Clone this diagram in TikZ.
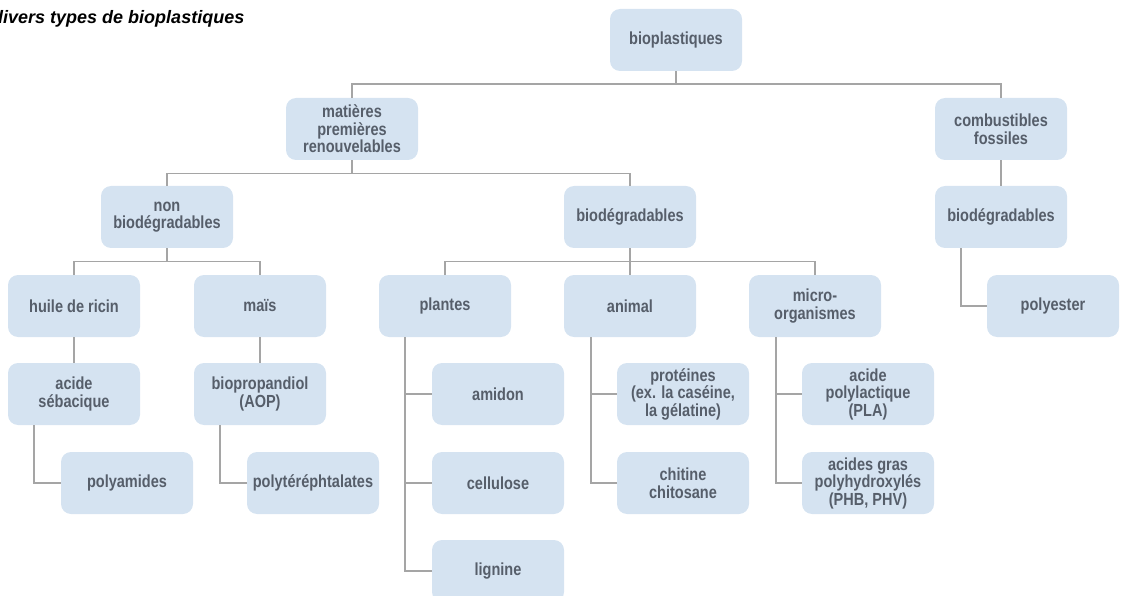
\documentclass[tikz,border=0pt]{standalone}
\usepackage{fontspec}
\setmainfont{Liberation Sans}
\newfontfamily\boxfont[FakeStretch=0.83]{Liberation Sans}
\usetikzlibrary{positioning}
\definecolor{boxblue}{RGB}{213,227,241}
\definecolor{boxtext}{RGB}{86,94,106}
\definecolor{linegray}{RGB}{165,165,165}

\begin{document}
\begin{tikzpicture}[x=1pt,y=-1pt,
  every node/.style={inner sep=0pt},
  box/.style={fill=boxblue, rounded corners=10pt, minimum width=132pt, minimum height=62pt,
    align=center, text=boxtext, font=\boxfont\bfseries\fontsize{17.5}{17.5}\selectfont},
  link/.style={draw=linegray, line width=1.4pt}]
\useasboundingbox (0,0) rectangle (1122,596);
\node [anchor=base west, font=\bfseries\itshape\fontsize{18}{20}\selectfont] (titre) at (-8,24) {divers types de bioplastiques};
\node [box] (bio) at (676,40) {bioplastiques};
\node [box] (mat) at (352,129) {matières\\premières\\renouvelables};
\node [box] (comb) at (1001,129) {combustibles\\fossiles};
\node [box] (nonbio) at (167,217) {non\\biodégradables};
\node [box] (biodeg) at (630,217) {biodégradables};
\node [box] (biodegf) at (1001,217) {biodégradables};
\node [box] (ricin) at (74,306) {huile de ricin};
\node [box] (mais) at (260,306) {maïs};
\node [box] (plantes) at (445,306) {plantes};
\node [box] (animal) at (630,306) {animal};
\node [box] (micro) at (815,306) {micro-\\organismes};
\node [box] (polyester) at (1053,306) {polyester};
\node [box] (sebac) at (74,394) {acide\\sébacique};
\node [box] (propan) at (260,394) {biopropandiol\\(AOP)};
\node [box] (amidon) at (498,394) {amidon};
\node [box] (prot) at (683,394) {protéines\\(ex. la caséine,\\la gélatine)};
\node [box] (pla) at (868,394) {acide\\polylactique\\(PLA)};
\node [box] (polyam) at (127,483) {polyamides};
\node [box] (polyter) at (313,483) {polytéréphtalates};
\node [box] (cellu) at (498,483) {cellulose};
\node [box] (chitine) at (683,483) {chitine\\chitosane};
\node [box] (phb) at (868,483) {acides gras\\polyhydroxylés\\(PHB, PHV)};
\node [box] (lignine) at (498,571) {lignine};
\draw [link] (bio.south) -- ++(0,13) -| (mat.north);
\draw [link] (bio.south) -- ++(0,13) -| (comb.north);
\draw [link] (mat.south) -- ++(0,13.5) -| (nonbio.north);
\draw [link] (mat.south) -- ++(0,13.5) -| (biodeg.north);
\draw [link] (comb.south) -- (biodegf.north);
\draw [link] (nonbio.south) -- ++(0,13.5) -| (ricin.north);
\draw [link] (nonbio.south) -- ++(0,13.5) -| (mais.north);
\draw [link] (biodeg.south) -- ++(0,13.5) -| (plantes.north);
\draw [link] (biodeg.south) -- (animal.north);
\draw [link] (biodeg.south) -- ++(0,13.5) -| (micro.north);
\draw [link] ([xshift=26pt]biodegf.south west) |- (polyester.west);
\draw [link] (ricin.south) -- (sebac.north);
\draw [link] (mais.south) -- (propan.north);
\draw [link] ([xshift=26pt]sebac.south west) |- (polyam.west);
\draw [link] ([xshift=26pt]propan.south west) |- (polyter.west);
\draw [link] ([xshift=26pt]plantes.south west) |- (amidon.west);
\draw [link] ([xshift=26pt]plantes.south west) |- (cellu.west);
\draw [link] ([xshift=26pt]plantes.south west) |- (lignine.west);
\draw [link] ([xshift=27pt]animal.south west) |- (prot.west);
\draw [link] ([xshift=27pt]animal.south west) |- (chitine.west);
\draw [link] ([xshift=27pt]micro.south west) |- (pla.west);
\draw [link] ([xshift=27pt]micro.south west) |- (phb.west);
\end{tikzpicture}
\end{document}
